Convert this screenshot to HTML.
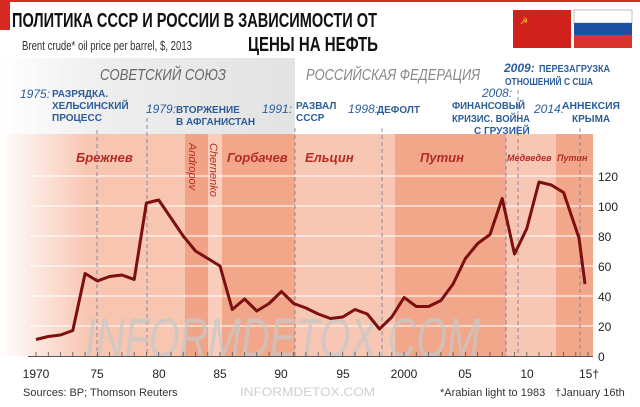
<!DOCTYPE html>
<html><head><meta charset="utf-8"><style>
html,body{margin:0;padding:0;background:#fff;}
svg{display:block;}
text{font-family:"Liberation Sans","DejaVu Sans",sans-serif;}
.a{fill:#2b5d9c;font-weight:bold;font-size:10px;}
.yr{fill:#2b5d9c;font-style:italic;font-size:12px;}
.ld{fill:#b42a24;font-weight:bold;font-style:italic;font-size:13px;}
.tk{fill:#222;font-size:12px;}
</style></head><body>
<svg width="640" height="407" viewBox="0 0 640 407" xmlns="http://www.w3.org/2000/svg">
<defs>
<linearGradient id="gp" x1="0" x2="1" y1="0" y2="0">
<stop offset="0" stop-color="#fff"/><stop offset="0.35" stop-color="#eeeeee"/><stop offset="1" stop-color="#e3e3e3"/></linearGradient>
<linearGradient id="fl" x1="0" x2="1" y1="0" y2="0">
<stop offset="0" stop-color="#fff" stop-opacity="1"/><stop offset="1" stop-color="#fff" stop-opacity="0"/></linearGradient>
</defs>
<rect x="0" y="0" width="640" height="2" fill="#d42a22"/>
<rect x="0" y="0" width="10" height="30" fill="#d42a22"/>
<text x="12" y="27" style="font-weight:bold;font-size:20px;fill:#111" textLength="365" lengthAdjust="spacingAndGlyphs">ПОЛИТИКА СССР И РОССИИ В ЗАВИСИМОСТИ ОТ</text>
<text x="248" y="51" style="font-weight:bold;font-size:20px;fill:#111" textLength="130" lengthAdjust="spacingAndGlyphs">ЦЕНЫ НА НЕФТЬ</text>
<text x="22" y="50" style="font-size:13px;fill:#333" textLength="170" lengthAdjust="spacingAndGlyphs">Brent crude* oil price per barrel, $, 2013</text>
<rect x="513" y="10" width="58" height="38" fill="#d0211c"/>
<text x="520" y="24" style="font-size:9px;fill:#f2c531">☭</text>
<rect x="574" y="10" width="58" height="13" fill="#fff" stroke="#999" stroke-width="0.6"/>
<rect x="574" y="23" width="58" height="12" fill="#1f4fa3"/>
<rect x="574" y="35" width="58" height="13" fill="#d8322b"/>
<rect x="0" y="58" width="295" height="77" fill="url(#gp)"/>
<text x="100" y="80" style="font-style:italic;font-size:16px;fill:#666" textLength="126" lengthAdjust="spacingAndGlyphs">СОВЕТСКИЙ СОЮЗ</text>
<text x="306" y="80" style="font-style:italic;font-size:16px;fill:#888" textLength="174" lengthAdjust="spacingAndGlyphs">РОССИЙСКАЯ ФЕДЕРАЦИЯ</text>
<rect x="0" y="134" width="185" height="222" fill="#f7c5b0"/>
<rect x="185" y="134" width="23" height="222" fill="#f0a386"/>
<rect x="208" y="134" width="14" height="222" fill="#f8cdbb"/>
<rect x="222" y="134" width="73" height="222" fill="#f2a78b"/>
<rect x="295" y="134" width="100" height="222" fill="#f8c7b3"/>
<rect x="395" y="134" width="111" height="222" fill="#f2a68a"/>
<rect x="506" y="134" width="50" height="222" fill="#f8c7b3"/>
<rect x="556" y="134" width="37" height="222" fill="#f2a68a"/>
<rect x="0" y="134" width="90" height="222" fill="url(#fl)"/>
<g stroke="#fff" stroke-width="1.3" opacity="0.85">
<line x1="30" x2="593" y1="326" y2="326"/><line x1="30" x2="593" y1="296" y2="296"/>
<line x1="30" x2="593" y1="266" y2="266"/><line x1="30" x2="593" y1="236" y2="236"/>
<line x1="30" x2="593" y1="206" y2="206"/><line x1="30" x2="593" y1="176" y2="176"/>
</g>
<g stroke="#6b7aa0" stroke-width="0.8" stroke-dasharray="4,3">
<line x1="97" x2="97" y1="130" y2="356"/><line x1="147" x2="147" y1="118" y2="356"/>
<line x1="295" x2="295" y1="128" y2="356"/><line x1="382" x2="382" y1="128" y2="356"/>
<line x1="506" x2="506" y1="138" y2="356"/><line x1="518" x2="518" y1="90" y2="356"/>
<line x1="580" x2="580" y1="128" y2="356"/>
</g>
<text x="20" y="98" class="yr">1975:</text>
<text x="52" y="97" class="a">РАЗРЯДКА.</text>
<text x="52" y="109" class="a">ХЕЛЬСИНСКИЙ</text>
<text x="52" y="121" class="a">ПРОЦЕСС</text>
<text x="146" y="113" class="yr">1979:</text>
<text x="176" y="113" class="a">ВТОРЖЕНИЕ</text>
<text x="176" y="125" class="a">В АФГАНИСТАН</text>
<text x="262" y="113" class="yr">1991:</text>
<text x="296" y="109" class="a">РАЗВАЛ</text>
<text x="296" y="121" class="a">СССР</text>
<text x="348" y="113" class="yr">1998:</text>
<text x="377" y="113" class="a">ДЕФОЛТ</text>
<text x="482" y="97" class="yr">2008:</text>
<text x="452" y="109" class="a" textLength="73" lengthAdjust="spacingAndGlyphs">ФИНАНСОВЫЙ</text>
<text x="452" y="122" class="a" textLength="78" lengthAdjust="spacingAndGlyphs">КРИЗИС. ВОЙНА</text>
<text x="474" y="134" class="a">С ГРУЗИЕЙ</text>
<text x="504" y="72" class="yr" style="font-weight:bold">2009:</text>
<text x="539" y="72" class="a" textLength="71" lengthAdjust="spacingAndGlyphs">ПЕРЕЗАГРУЗКА</text>
<text x="505" y="85" class="a" textLength="88" lengthAdjust="spacingAndGlyphs">ОТНОШЕНИЙ С США</text>
<text x="534" y="113" class="yr">2014:</text>
<text x="562" y="109" class="a" textLength="58" lengthAdjust="spacingAndGlyphs">АННЕКСИЯ</text>
<text x="572" y="122" class="a">КРЫМА</text>
<text x="76" y="162" class="ld">Брежнев</text>
<text x="227" y="162" class="ld">Горбачев</text>
<text x="305" y="162" class="ld">Ельцин</text>
<text x="420" y="162" class="ld">Путин</text>
<text x="507" y="161" class="ld" style="font-size:9px">Медведев</text>
<text x="557" y="161" class="ld" style="font-size:9px">Путин</text>
<text transform="translate(189,143) rotate(90)" class="ld" style="font-weight:normal;font-size:11px">Andropov</text>
<text transform="translate(210,143) rotate(90)" class="ld" style="font-weight:normal;font-size:11px">Chernenko</text>
<text x="85" y="357" style="font-size:56px;font-style:italic;fill:#c8c8c8;opacity:0.75" textLength="395" lengthAdjust="spacingAndGlyphs">INFORMDETOX.COM</text>
<line x1="28" x2="593" y1="356.5" y2="356.5" stroke="#555" stroke-width="1"/>
<g stroke="#555" stroke-width="0.8">
<path d="M36 356v-4M48.3 356v-4M60.5 356v-4M72.8 356v-4M85.1 356v-4M97.4 356v-4M109.6 356v-4M121.9 356v-4M134.2 356v-4M146.4 356v-4M158.7 356v-4M171 356v-4M183.2 356v-4M195.5 356v-4M207.8 356v-4M220 356v-4M232.3 356v-4M244.6 356v-4M256.8 356v-4M269.1 356v-4M281.4 356v-4M293.7 356v-4M305.9 356v-4M318.2 356v-4M330.5 356v-4M342.7 356v-4M355 356v-4M367.3 356v-4M379.5 356v-4M391.8 356v-4M404.1 356v-4M416.3 356v-4M428.6 356v-4M440.9 356v-4M453.1 356v-4M465.4 356v-4M477.7 356v-4M490 356v-4M502.2 356v-4M514.5 356v-4M526.8 356v-4M539 356v-4M551.3 356v-4M563.6 356v-4M575.8 356v-4M588 356v-4"/>
</g>
<polyline fill="none" stroke="#7c0f10" stroke-width="3" stroke-linejoin="round" points="36,339.5 48.3,336.5 60.5,335 72.8,330.5 85.1,273.5 97.4,281 109.6,276.5 121.9,275 134.2,279.5 146.4,203 158.7,200 171,218 183.2,236 195.5,251 207.8,258.5 220,266 232.3,309.5 244.6,299 256.8,311 269.1,303.5 281.4,291.5 293.7,303.5 305.9,308 318.2,314 330.5,318.5 342.7,317 355,309.5 367.3,314 379.5,329 391.8,317 404.1,297.5 416.3,306.5 428.6,306.5 440.9,300.5 453.1,284 465.4,258.5 477.7,243.5 490,234.5 502.2,198.5 514.5,254 526.8,228.5 539,182 551.3,185 563.6,192.5 579,238 585,284"/>
<text x="598" y="361" class="tk">0</text>
<text x="598" y="331" class="tk">20</text>
<text x="598" y="301" class="tk">40</text>
<text x="598" y="271" class="tk">60</text>
<text x="598" y="241" class="tk">80</text>
<text x="598" y="211" class="tk">100</text>
<text x="598" y="181" class="tk">120</text>
<g text-anchor="middle">
<text x="36" y="378" class="tk">1970</text>
<text x="97" y="378" class="tk">75</text>
<text x="159" y="378" class="tk">80</text>
<text x="220" y="378" class="tk">85</text>
<text x="281" y="378" class="tk">90</text>
<text x="343" y="378" class="tk">95</text>
<text x="404" y="378" class="tk">2000</text>
<text x="465" y="378" class="tk">05</text>
<text x="527" y="378" class="tk">10</text>
<text x="589" y="378" class="tk">15†</text>
</g>
<text x="23" y="396" style="font-size:11px;fill:#333">Sources: BP; Thomson Reuters</text>
<text x="240" y="396" style="font-size:12px;fill:#cfcfcf" textLength="135" lengthAdjust="spacingAndGlyphs">INFORMDETOX.COM</text>
<text x="440" y="396" style="font-size:11px;fill:#333">*Arabian light to 1983</text>
<text x="555" y="396" style="font-size:11px;fill:#333">†January 16th</text>
</svg>
</body></html>
